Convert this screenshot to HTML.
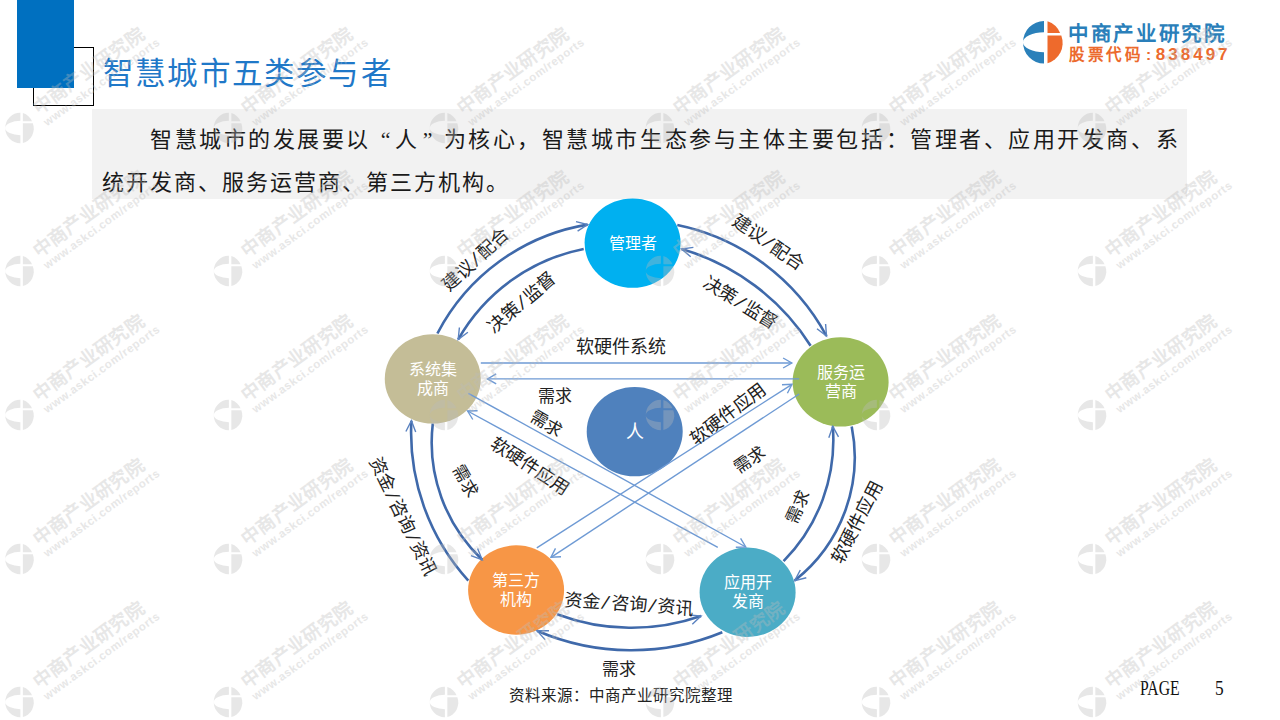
<!DOCTYPE html>
<html lang="zh-CN">
<head>
<meta charset="utf-8">
<style>
html,body{margin:0;padding:0;}
body{width:1280px;height:720px;overflow:hidden;position:relative;background:#fff;font-family:"Liberation Sans",sans-serif;}
.abs{position:absolute;}
#bluebar{left:17px;top:0;width:57px;height:88px;background:#0070C0;}
#outline{left:33px;top:47px;width:59px;height:57px;border:1px solid #000;}
#title{left:103px;top:54px;font-family:"Liberation Serif",serif;font-size:30.5px;line-height:40px;color:#1F78C8;white-space:nowrap;letter-spacing:2.2px;}
#box{left:92px;top:109px;width:1095px;height:90px;background:#F2F2F2;}
.para{left:102px;font-family:"Liberation Serif",serif;font-size:22px;line-height:30px;color:#1a1a1a;white-space:nowrap;letter-spacing:2px;}
.q{display:inline-block;width:24px;}
#logo-t1{left:1068px;top:19px;font-size:20.5px;line-height:30px;font-weight:bold;color:#2A7FBA;white-space:nowrap;letter-spacing:2.7px;}
#logo-t2{left:1069px;top:43px;font-size:15.5px;line-height:24px;font-weight:bold;color:#EC6A2D;white-space:nowrap;letter-spacing:2.7px;}
#logo-t2 .d{font-size:17px;letter-spacing:3px;font-weight:bold;}
#logo-t2 .c{display:inline-block;width:12px;text-align:center;}
.sl{font-family:"Liberation Mono",monospace;}
.lbl{position:absolute;white-space:nowrap;color:#222;font-family:"Liberation Serif",serif;line-height:1;}
.ct{position:absolute;transform:translate(-50%,-50%);color:#fff;text-align:center;line-height:19px;white-space:nowrap;}
#src{left:509px;top:686px;font-size:15.5px;line-height:20px;color:#222;white-space:nowrap;}
#page{left:1140px;top:676px;font-family:"Liberation Serif",serif;font-size:20.4px;line-height:24px;color:#111;white-space:pre;transform:scaleX(0.77);transform-origin:0 0;}
#page5{left:1214.7px;top:676px;font-family:"Liberation Serif",serif;font-size:20.4px;line-height:24px;color:#111;transform:scaleX(0.85);transform-origin:0 0;}
svg{position:absolute;left:0;top:0;}
</style>
</head>
<body>
<div class="abs" id="outline"></div>
<div class="abs" id="bluebar"></div>
<div class="abs" id="title">智慧城市五类参与者</div>
<div class="abs" id="box"></div>
<div class="abs para" style="top:125px;left:101px;letter-spacing:2.55px;">　　智慧城市的发展要以<span class="q" style="text-align:right;padding-right:2px;width:22px">“</span>人<span class="q" style="padding-left:3px;width:21px">”</span>为核心，智慧城市生态参与主体主要包括：管理者、应用开发商、系</div>
<div class="abs para" style="top:168px;">统开发商、服务运营商、第三方机构。</div>
<svg class="abs" width="1280" height="720" viewBox="0 0 1280 720">
<g transform="translate(1041.4 42.3)">
<path d="M2.6 -21.2 A21 21.2 0 0 0 2.6 21.2 L2.6 10 A21 10 0 0 1 2.6 -10 Z" fill="#2A80BA"/>
<path d="M6.1 -21 A20.5 21 0 0 1 18.7 -9.3 L6.1 -9.3 Z" fill="#EE6A2C"/>
<path d="M6.1 -6.7 L19.9 -6.7 A20.5 21 0 0 1 6.1 21 Z" fill="#EE6A2C"/>
</g>
<ellipse cx="632.6" cy="243.1" rx="48" ry="44.7" fill="#00B0F0"/>
<ellipse cx="432.75" cy="378.9" rx="48" ry="44.7" fill="#C4BD97"/>
<ellipse cx="840.6" cy="381.9" rx="48" ry="44.7" fill="#9BBB59"/>
<ellipse cx="516.1" cy="590" rx="48" ry="44.7" fill="#F79646"/>
<ellipse cx="747.6" cy="592.25" rx="48" ry="44.7" fill="#4BACC6"/>
<ellipse cx="634.7" cy="431.6" rx="48" ry="44.7" fill="#4F81BD"/>
<path d="M437.4 333.5A207.4 207.4 0 0 1 587.6 224.6" fill="none" stroke="#3F69AA" stroke-width="2.6"/><path d="M576.0 221.6L587.6 224.6L577.6 231.2" fill="none" stroke="#5A82C0" stroke-width="1.4" stroke-linejoin="miter"/>
<path d="M583.7 248.9A186.3 186.3 0 0 0 458.2 339.4" fill="none" stroke="#3F69AA" stroke-width="2.6"/><path d="M467.9 332.3L458.2 339.4L459.4 327.5" fill="none" stroke="#5A82C0" stroke-width="1.4" stroke-linejoin="miter"/>
<path d="M677.3 225.0A220.3 220.3 0 0 1 826.5 336.0" fill="none" stroke="#3F69AA" stroke-width="2.6"/><path d="M825.6 324.0L826.5 336.0L817.0 328.7" fill="none" stroke="#5A82C0" stroke-width="1.4" stroke-linejoin="miter"/>
<path d="M810.6 345.8A228.3 228.3 0 0 0 681.5 249.0" fill="none" stroke="#3F69AA" stroke-width="2.6"/><path d="M690.7 256.7L681.5 249.0L693.4 247.4" fill="none" stroke="#5A82C0" stroke-width="1.4" stroke-linejoin="miter"/>
<path d="M851.7 426.4A157.1 157.1 0 0 1 794.7 580.6" fill="none" stroke="#3F69AA" stroke-width="2.6"/><path d="M806.3 577.7L794.7 580.6L800.3 570.0" fill="none" stroke="#5A82C0" stroke-width="1.4" stroke-linejoin="miter"/>
<path d="M783.6 561.1A172.4 172.4 0 0 0 832.8 426.4" fill="none" stroke="#3F69AA" stroke-width="2.6"/><path d="M828.8 437.7L832.8 426.4L838.5 436.9" fill="none" stroke="#5A82C0" stroke-width="1.4" stroke-linejoin="miter"/>
<path d="M557.1 614.2A210.4 210.4 0 0 0 701.0 616.0" fill="none" stroke="#3F69AA" stroke-width="2.6"/><path d="M689.0 615.0L701.0 616.0L692.3 624.2" fill="none" stroke="#5A82C0" stroke-width="1.4" stroke-linejoin="miter"/>
<path d="M722.3 632.3A238.4 238.4 0 0 1 537.0 630.8" fill="none" stroke="#3F69AA" stroke-width="2.6"/><path d="M545.1 639.6L537.0 630.8L549.0 630.7" fill="none" stroke="#5A82C0" stroke-width="1.4" stroke-linejoin="miter"/>
<path d="M468.3 580.6A220.3 220.3 0 0 1 411.4 420.8" fill="none" stroke="#3F69AA" stroke-width="2.6"/><path d="M405.9 431.5L411.4 420.8L415.7 432.0" fill="none" stroke="#5A82C0" stroke-width="1.4" stroke-linejoin="miter"/>
<path d="M432.8 423.6A161.3 161.3 0 0 0 482.2 559.7" fill="none" stroke="#3F69AA" stroke-width="2.6"/><path d="M477.6 548.6L482.2 559.7L470.9 555.7" fill="none" stroke="#5A82C0" stroke-width="1.4" stroke-linejoin="miter"/>
<path d="M480.8 363.0L791.8 363.0" stroke="#6E9AD4" stroke-width="1.4" fill="none"/><path d="M783.1 358.0L791.8 363.0L783.1 368.0" fill="none" stroke="#6E9AD4" stroke-width="1.4" stroke-linejoin="miter"/>
<path d="M799.2 378.9L487.5 378.9" stroke="#6E9AD4" stroke-width="1.4" fill="none"/><path d="M496.2 383.9L487.5 378.9L496.2 373.9" fill="none" stroke="#6E9AD4" stroke-width="1.4" stroke-linejoin="miter"/>
<path d="M799.2 394.0L551.0 557.3" stroke="#6E9AD4" stroke-width="1.4" fill="none"/><path d="M561.0 556.7L551.0 557.3L555.5 548.4" fill="none" stroke="#6E9AD4" stroke-width="1.4" stroke-linejoin="miter"/>
<path d="M536.8 547.8L792.0 384.3" stroke="#6E9AD4" stroke-width="1.4" fill="none"/><path d="M782.0 384.8L792.0 384.3L787.4 393.2" fill="none" stroke="#6E9AD4" stroke-width="1.4" stroke-linejoin="miter"/>
<path d="M468.3 393.3L745.8 547.0" stroke="#6E9AD4" stroke-width="1.4" fill="none"/><path d="M740.6 538.4L745.8 547.0L735.8 547.2" fill="none" stroke="#6E9AD4" stroke-width="1.4" stroke-linejoin="miter"/>
<path d="M717.8 547.4L467.6 411.0" stroke="#6E9AD4" stroke-width="1.4" fill="none"/><path d="M472.8 419.5L467.6 411.0L477.6 410.8" fill="none" stroke="#6E9AD4" stroke-width="1.4" stroke-linejoin="miter"/>
</svg>
<div class="abs" id="logo-t1">中商产业研究院</div>
<div class="abs" id="logo-t2">股票代码<span class="c">:</span><span class="d">838497</span></div>
<div class="lbl" style="left:475.6px;top:260px;font-size:18px;transform:translate(-50%,-50%) rotate(-43deg)">建议<span class="sl">/</span>配合</div>
<div class="lbl" style="left:522px;top:303px;font-size:18px;transform:translate(-50%,-50%) rotate(-40deg)">决策<span class="sl">/</span>监督</div>
<div class="lbl" style="left:768px;top:243px;font-size:18px;transform:translate(-50%,-50%) rotate(34deg)">建议<span class="sl">/</span>配合</div>
<div class="lbl" style="left:739.8px;top:303px;font-size:18px;transform:translate(-50%,-50%) rotate(32deg)">决策<span class="sl">/</span>监督</div>
<div class="lbl" style="left:620.7px;top:347.2px;font-size:18px;transform:translate(-50%,-50%) rotate(0deg)">软硬件系统</div>
<div class="lbl" style="left:555px;top:395.7px;font-size:17px;transform:translate(-50%,-50%) rotate(0deg)">需求</div>
<div class="lbl" style="left:545.7px;top:424.3px;font-size:17px;transform:translate(-50%,-50%) rotate(30deg)">需求</div>
<div class="lbl" style="left:530px;top:466px;font-size:18px;transform:translate(-50%,-50%) rotate(33deg)">软硬件应用</div>
<div class="lbl" style="left:727.6px;top:413.6px;font-size:18px;transform:translate(-50%,-50%) rotate(-37deg)">软硬件应用</div>
<div class="lbl" style="left:750.2px;top:460.1px;font-size:17px;transform:translate(-50%,-50%) rotate(-35deg)">需求</div>
<div class="lbl" style="left:797.5px;top:507px;font-size:17px;transform:translate(-50%,-50%) rotate(-65deg)">需求</div>
<div class="lbl" style="left:857.2px;top:522.2px;font-size:18px;transform:translate(-50%,-50%) rotate(-63deg)">软硬件应用</div>
<div class="lbl" style="left:465px;top:481px;font-size:17px;transform:translate(-50%,-50%) rotate(60deg)">需求</div>
<div class="lbl" style="left:401.7px;top:517px;font-size:18px;transform:translate(-50%,-50%) rotate(64deg)">资金<span class="sl">/</span>咨询<span class="sl">/</span>资讯</div>
<div class="lbl" style="left:629.3px;top:604.8px;font-size:18px;transform:translate(-50%,-50%) rotate(4deg)">资金<span class="sl">/</span>咨询<span class="sl">/</span>资讯</div>
<div class="lbl" style="left:619.2px;top:669.2px;font-size:17px;transform:translate(-50%,-50%) rotate(0deg)">需求</div>
<div class="ct" style="left:632.6px;top:243.1px;font-size:16px">管理者</div>
<div class="ct" style="left:432.75px;top:378.9px;font-size:16px">系统集<br>成商</div>
<div class="ct" style="left:840.6px;top:381.9px;font-size:16px">服务运<br>营商</div>
<div class="ct" style="left:516.1px;top:590px;font-size:16px">第三方<br>机构</div>
<div class="ct" style="left:747.6px;top:592.25px;font-size:16px">应用开<br>发商</div>
<div class="ct" style="left:634.7px;top:431.6px;font-size:18px">人</div>
<div class="abs" id="src">资料来源：中商产业研究院整理</div>
<div class="abs" id="page">PAGE</div><div class="abs" id="page5">5</div>
<svg class="abs" width="1280" height="720" viewBox="0 0 1280 720" style="pointer-events:none;opacity:0.35">
<symbol id="wm" overflow="visible">
<g transform="scale(0.72)">
<path d="M2.6 -21.2 A21 21.2 0 0 0 2.6 21.2 L2.6 10 A21 10 0 0 1 2.6 -10 Z" fill="#BBBBBB"/>
<path d="M6.1 -21 A20.5 21 0 0 1 18.7 -9.3 L6.1 -9.3 Z" fill="#BBBBBB"/>
<path d="M6.1 -6.7 L19.9 -6.7 A20.5 21 0 0 1 6.1 21 Z" fill="#BBBBBB"/>
</g>
<g transform="rotate(-36)">
<text x="24" y="1" font-size="18.5" font-weight="bold" fill="#BBBBBB" font-family="Liberation Sans, sans-serif">中商产业研究院</text>
<text x="24" y="15.5" font-size="11.5" font-weight="bold" fill="#BBBBBB" font-family="Liberation Sans, sans-serif" letter-spacing="0.6">www.askci.com/reports</text>
</g>
</symbol>
<use href="#wm" x="18.5" y="128"/>
<use href="#wm" x="227" y="128"/>
<use href="#wm" x="443" y="128"/>
<use href="#wm" x="659" y="128"/>
<use href="#wm" x="875" y="128"/>
<use href="#wm" x="1091" y="128"/>
<use href="#wm" x="18.5" y="271"/>
<use href="#wm" x="227" y="271"/>
<use href="#wm" x="443" y="271"/>
<use href="#wm" x="659" y="271"/>
<use href="#wm" x="875" y="271"/>
<use href="#wm" x="1091" y="271"/>
<use href="#wm" x="18.5" y="415"/>
<use href="#wm" x="227" y="415"/>
<use href="#wm" x="443" y="415"/>
<use href="#wm" x="659" y="415"/>
<use href="#wm" x="875" y="415"/>
<use href="#wm" x="1091" y="415"/>
<use href="#wm" x="18.5" y="559"/>
<use href="#wm" x="227" y="559"/>
<use href="#wm" x="443" y="559"/>
<use href="#wm" x="659" y="559"/>
<use href="#wm" x="875" y="559"/>
<use href="#wm" x="1091" y="559"/>
<use href="#wm" x="18.5" y="702"/>
<use href="#wm" x="227" y="702"/>
<use href="#wm" x="443" y="702"/>
<use href="#wm" x="659" y="702"/>
<use href="#wm" x="875" y="702"/>
<use href="#wm" x="1091" y="702"/>
</svg>
</body>
</html>
